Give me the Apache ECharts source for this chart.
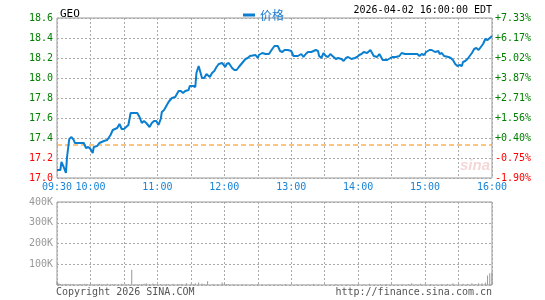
<!DOCTYPE html>
<html>
<head>
<meta charset="utf-8">
<script src="https://cdn.jsdelivr.net/npm/echarts@6/dist/echarts.min.js"></script>
<style>
  html, body { margin: 0; padding: 0; background: #fff; }
  #chart { width: 545px; height: 300px; }
</style>
</head>
<body>
<div id="chart"></div>
<script>
// GEO intraday, minutes counted from 09:30
var symbol = 'GEO';
var stamp = '2026-04-02 16:00:00 EDT';
var prevClose = 17.33;
var sessionMinutes = 390;

var priceMinutes = [0, 3, 4, 6, 8, 9, 11, 13, 15, 16, 24, 26, 28, 30, 32, 33, 36, 38, 40, 42,
  45, 48, 50, 52, 54, 56, 58, 60, 62, 64, 66, 72, 74, 76, 78, 80, 83, 85, 87, 89,
  91, 93, 94, 96, 97, 100, 103, 106, 109, 111, 113, 115, 118, 119, 122, 124, 125, 127, 128, 130,
  132, 134, 137, 139, 141, 143, 145, 148, 149, 151, 152, 154, 157, 159, 161, 163, 166, 169, 171, 173,
  178, 180, 181, 184, 187, 190, 193, 195, 198, 200, 202, 204, 205, 207, 208, 210, 212, 216, 219, 221,
  223, 225, 228, 229, 232, 234, 235, 237, 239, 241, 243, 245, 248, 250, 252, 255, 257, 259, 261, 264,
  267, 269, 271, 273, 275, 278, 281, 282, 284, 287, 289, 290, 292, 296, 299, 301, 304, 307, 309, 312,
  318, 321, 323, 325, 327, 329, 331, 334, 336, 339, 342, 343, 345, 347, 348, 351, 353, 355, 357, 359,
  361, 363, 364, 366, 368, 370, 372, 374, 376, 378, 380, 382, 384, 386, 388, 390];
var prices = [17.08, 17.08, 17.16, 17.11, 17.05, 17.21, 17.39, 17.41, 17.38, 17.35, 17.35, 17.30, 17.31, 17.29, 17.25, 17.31, 17.32, 17.35, 17.36, 17.37,
  17.38, 17.43, 17.48, 17.49, 17.50, 17.54, 17.49, 17.49, 17.51, 17.53, 17.65, 17.65, 17.61, 17.55, 17.57, 17.55, 17.51, 17.55, 17.57, 17.57,
  17.53, 17.59, 17.66, 17.68, 17.69, 17.76, 17.80, 17.81, 17.87, 17.87, 17.85, 17.87, 17.88, 17.92, 17.92, 17.91, 18.05, 18.12, 18.10, 18.00,
  18.00, 18.04, 18.01, 18.05, 18.07, 18.11, 18.14, 18.15, 18.15, 18.11, 18.14, 18.15, 18.10, 18.08, 18.08, 18.11, 18.15, 18.19, 18.20, 18.22,
  18.23, 18.20, 18.23, 18.25, 18.24, 18.24, 18.29, 18.32, 18.32, 18.27, 18.26, 18.28, 18.29, 18.28, 18.30, 18.27, 18.22, 18.22, 18.24, 18.21,
  18.24, 18.26, 18.26, 18.25, 18.28, 18.27, 18.22, 18.20, 18.25, 18.22, 18.21, 18.24, 18.21, 18.19, 18.20, 18.19, 18.17, 18.20, 18.21, 18.19,
  18.20, 18.21, 18.23, 18.24, 18.26, 18.25, 18.28, 18.26, 18.22, 18.21, 18.24, 18.22, 18.18, 18.18, 18.20, 18.21, 18.21, 18.22, 18.25, 18.24,
  18.24, 18.24, 18.24, 18.22, 18.24, 18.23, 18.26, 18.28, 18.28, 18.26, 18.27, 18.24, 18.25, 18.22, 18.21, 18.21, 18.20, 18.18, 18.14, 18.12,
  18.13, 18.12, 18.16, 18.17, 18.19, 18.22, 18.25, 18.29, 18.30, 18.28, 18.31, 18.34, 18.39, 18.38, 18.40, 18.42];

var volMinutes = [0, 1, 2, 3, 5, 7, 8, 10, 12, 14, 15, 18, 20, 21, 23, 25, 27, 30, 32, 34,
  36, 38, 40, 42, 45, 48, 50, 52, 55, 58, 60, 62, 64, 67, 70, 72, 74, 76, 78, 80,
  83, 86, 88, 90, 93, 96, 98, 100, 104, 108, 110, 112, 116, 120, 122, 124, 127, 130, 132, 135,
  140, 144, 148, 150, 152, 154, 158, 162, 166, 170, 175, 180, 184, 190, 195, 200, 205, 210, 215, 220,
  225, 230, 235, 240, 245, 250, 255, 260, 265, 270, 275, 280, 285, 290, 295, 300, 305, 310, 315, 318,
  322, 326, 330, 335, 340, 345, 350, 355, 360, 364, 368, 372, 375, 378, 381, 384, 386, 388, 390];
var volumes = [18000, 9000, 6000, 5000, 4000, 3000, 6000, 5000, 4000, 3000, 5000, 3000, 4000, 4000, 3000, 6000, 5000, 4000, 3000, 3000,
  4000, 5000, 3000, 4000, 6000, 3000, 4000, 4000, 5000, 6000, 3000, 3000, 4000, 73000, 4000, 3000, 3000, 4000, 6000, 8000,
  5000, 7000, 4000, 4000, 5000, 3000, 4000, 4000, 6000, 4000, 3000, 5000, 8000, 6000, 4000, 9000, 12000, 7000, 5000, 18000,
  5000, 4000, 12000, 7000, 4000, 5000, 4000, 3000, 4000, 3000, 4000, 5000, 3000, 4000, 3000, 4000, 5000, 3000, 4000, 3000,
  4000, 5000, 3000, 4000, 3000, 5000, 3000, 4000, 3000, 5000, 4000, 6000, 3000, 4000, 5000, 4000, 3000, 4000, 5000, 9000,
  4000, 6000, 4000, 5000, 3000, 4000, 5000, 8000, 4000, 6000, 5000, 8000, 5000, 9000, 8000, 12000, 46000, 57000, 60000];

var timeLabels = ['09:30', '10:00', '11:00', '12:00', '13:00', '14:00', '15:00', '16:00'];
var priceTicks = [17.0, 17.2, 17.4, 17.6, 17.8, 18.0, 18.2, 18.4, 18.6];
var pctLabels = ['-1.90%', '-0.75%', '+0.40%', '+1.56%', '+2.71%', '+3.87%', '+5.02%', '+6.17%', '+7.33%'];
var volLabels = ['', '100K', '200K', '300K', '400K'];

var mono = 'DejaVu Sans Mono';
var upColor = '#008000';
var downColor = '#ff0000';

function minuteToTime(m) {
  var t = 9 * 60 + 30 + m;
  var h = Math.floor(t / 60), mm = t % 60;
  return (h < 10 ? '0' : '') + h + ':' + (mm < 10 ? '0' : '') + mm;
}
function tickIndex(v) {
  return Math.round((v - priceTicks[0]) / 0.2);
}

var linePts = priceMinutes.map(function (m, i) { return [m, prices[i]]; });
var volPts = volMinutes.map(function (m, i) { return [m, volumes[i]]; });
var closePts = [[0, prevClose], [sessionMinutes, prevClose]];

var chart = echarts.init(document.getElementById('chart'));
var dotted = { show: true, lineStyle: { color: '#aaa', type: [2, 2], width: 1 } };

chart.setOption({
  animation: false,
  title: {
    text: symbol, left: 55, top: 4,
    textStyle: { fontFamily: mono, fontSize: 11, fontWeight: 'normal', color: '#000' }
  },
  legend: {
    left: 238, top: 4,
    icon: 'rect', itemWidth: 12, itemHeight: 3, itemGap: 4,
    textStyle: { fontFamily: 'Noto Sans CJK SC', fontSize: 12, color: '#1a7bd0' },
    data: ['价格']
  },
  graphic: [
    {
      type: 'text', right: 53, top: 5, z: 10,
      style: { text: stamp, fontFamily: mono, fontSize: 10, fill: '#000', backgroundColor: '#fff' }
    },
    {
      type: 'text', left: 460, top: 158, z: 1,
      style: { text: 'sina', font: 'italic bold 15px Arial', fill: 'rgba(220,120,120,0.3)' }
    },
    {
      type: 'text', left: 56, top: 287,
      style: { text: 'Copyright 2026 SINA.COM', fontFamily: mono, fontSize: 10, fill: '#555' }
    },
    {
      type: 'text', right: 53, top: 287,
      style: { text: 'http://finance.sina.com.cn', fontFamily: mono, fontSize: 10, fill: '#555' }
    }
  ],
  grid: [
    { left: 57, right: 53, top: 18, height: 160, show: true, borderColor: '#999', borderWidth: 1 },
    { left: 57, right: 53, top: 202, height: 83, show: true, borderColor: '#999', borderWidth: 1 }
  ],
  xAxis: [
    {
      type: 'value', gridIndex: 0, min: 0, max: sessionMinutes, interval: 30,
      axisLine: { show: false }, axisTick: { show: false },
      splitLine: dotted,
      axisLabel: {
        margin: 4, fontFamily: mono, fontSize: 10, color: '#1a84d6',
        showMinLabel: true, showMaxLabel: true,
        formatter: function (v) {
          var t = minuteToTime(v);
          return timeLabels.indexOf(t) >= 0 ? t : '';
        }
      }
    },
    {
      type: 'value', gridIndex: 1, min: 0, max: sessionMinutes, interval: 30,
      axisLine: { show: false }, axisTick: { show: false },
      splitLine: dotted, axisLabel: { show: false }
    }
  ],
  yAxis: [
    {
      type: 'value', gridIndex: 0, min: 17.0, max: 18.6, interval: 0.2,
      axisLine: { show: false }, axisTick: { show: false },
      splitLine: dotted,
      axisLabel: {
        margin: 4, fontFamily: mono, fontSize: 10,
        formatter: function (v) { return priceTicks[tickIndex(v)].toFixed(1); },
        color: function (v) { return Number(v) >= prevClose ? upColor : downColor; }
      }
    },
    {
      type: 'value', gridIndex: 0, position: 'right', min: 17.0, max: 18.6, interval: 0.2,
      axisLine: { show: false }, axisTick: { show: false }, splitLine: { show: false },
      axisLabel: {
        margin: 3, fontFamily: mono, fontSize: 10,
        formatter: function (v) { return pctLabels[tickIndex(v)]; },
        color: function (v) { return Number(v) >= prevClose ? upColor : downColor; }
      }
    },
    {
      type: 'value', gridIndex: 1, min: 0, max: 400000, interval: 100000,
      axisLine: { show: false }, axisTick: { show: false },
      splitLine: dotted,
      axisLabel: {
        margin: 4, fontFamily: mono, fontSize: 10, color: '#999',
        formatter: function (v) { return volLabels[Math.round(v / 100000)]; }
      }
    }
  ],
  series: [
    {
      name: 'prevClose', type: 'line', xAxisIndex: 0, yAxisIndex: 0,
      data: closePts, showSymbol: false, symbol: 'none', silent: true,
      lineStyle: { color: '#ff8c00', type: [5, 3], width: 1 },
      itemStyle: { color: '#ff8c00' },
      z: 4
    },
    {
      name: '价格', type: 'line', xAxisIndex: 0, yAxisIndex: 0,
      data: linePts, showSymbol: false, symbol: 'none',
      lineStyle: { color: '#0a7fd0', width: 2 },
      itemStyle: { color: '#0a7fd0' },
      z: 5
    },
    {
      name: 'vol', type: 'bar', xAxisIndex: 1, yAxisIndex: 2,
      data: volPts, barWidth: 1,
      itemStyle: { color: '#999' }
    }
  ]
});
</script>
</body>
</html>
